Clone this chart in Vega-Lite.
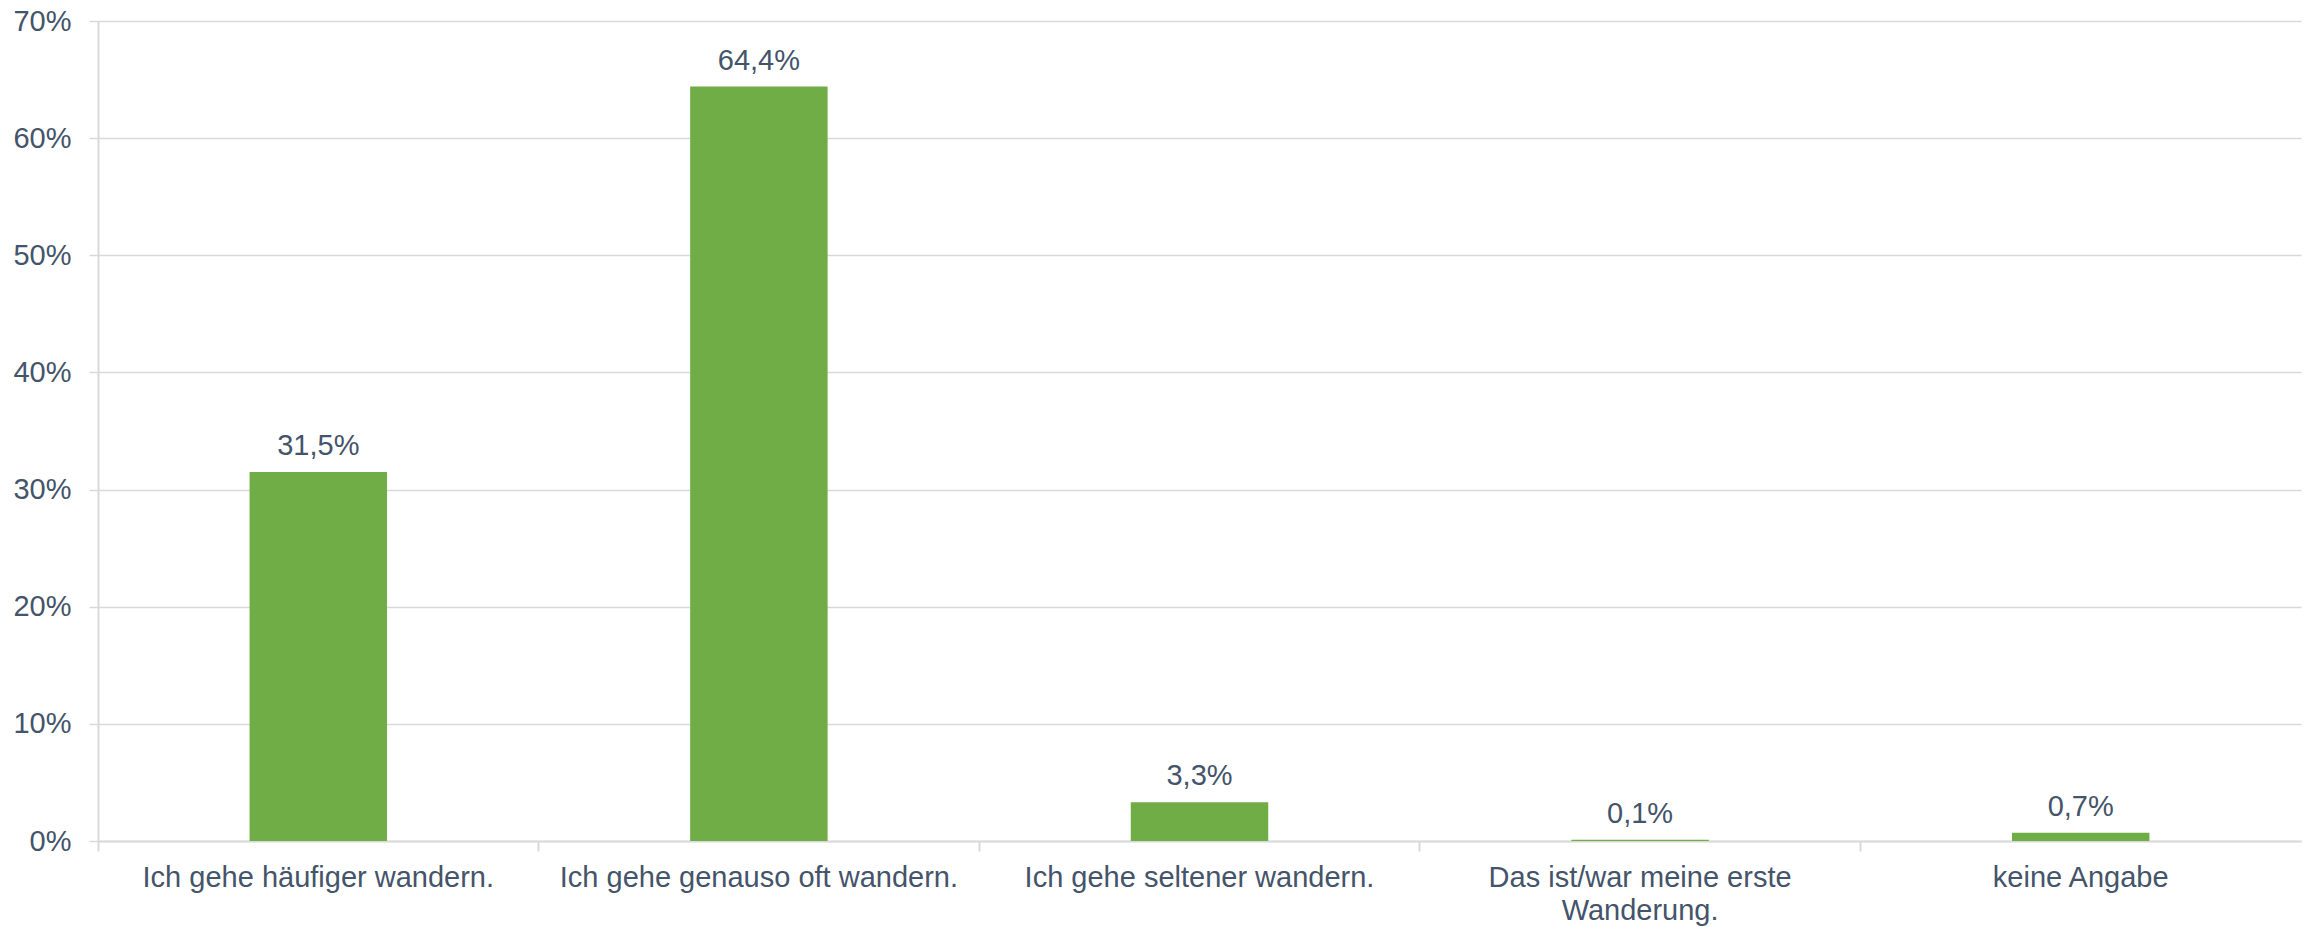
{
  "$schema": "https://vega.github.io/schema/vega-lite/v6.json",
  "autosize": {"type": "none"},
  "width": 2203,
  "height": 820,
  "padding": {"left": 98, "top": 21, "right": 12, "bottom": 86},
  "background": "white",
  "config": {
    "locale": {"number": {"decimal": ",", "thousands": ".", "grouping": [3], "currency": ["", " €"]}},
    "view": {"stroke": null},
    "font": "Liberation Sans",
    "axis": {"labelFont": "Liberation Sans", "labelColor": "#44546A", "labelFontSize": 29}
  },
  "data": {
    "values": [
      {"antwort": "Ich gehe häufiger wandern.", "anteil": 0.315},
      {"antwort": "Ich gehe genauso oft wandern.", "anteil": 0.644},
      {"antwort": "Ich gehe seltener wandern.", "anteil": 0.033},
      {"antwort": "Das ist/war meine erste Wanderung.", "anteil": 0.001},
      {"antwort": "keine Angabe", "anteil": 0.007}
    ]
  },
  "encoding": {
    "x": {
      "field": "antwort",
      "type": "nominal",
      "sort": null,
      "scale": {"paddingInner": 0, "paddingOuter": 0},
      "axis": {
        "title": null,
        "labelAngle": 0,
        "bandPosition": 0,
        "labelBandPosition": 0.5,
        "domainColor": "#D9D9D9",
        "domainWidth": 2,
        "tickColor": "#D9D9D9",
        "tickWidth": 2,
        "tickSize": 10,
        "labelPadding": 12,
        "labelLineHeight": 33,
        "labelBaseline": "top",
        "labelExpr": "datum.label == 'Das ist/war meine erste Wanderung.' ? ['Das ist/war meine erste', 'Wanderung.'] : datum.label",
        "labelLimit": 600
      }
    },
    "y": {
      "field": "anteil",
      "type": "quantitative",
      "scale": {"domain": [0, 0.7], "nice": false},
      "axis": {
        "title": null,
        "format": ".0%",
        "values": [0, 0.1, 0.2, 0.3, 0.4, 0.5, 0.6, 0.7],
        "gridColor": "#D9D9D9",
        "gridWidth": 1.5,
        "domainColor": "#D9D9D9",
        "domainWidth": 2,
        "tickColor": "#D9D9D9",
        "tickWidth": 1.5,
        "tickSize": 9,
        "labelPadding": 18
      }
    }
  },
  "layer": [
    {
      "mark": {"type": "bar", "color": "#70AD47", "width": {"band": 0.312}}
    },
    {
      "mark": {"type": "text", "baseline": "alphabetic", "dy": -17, "fontSize": 29, "color": "#44546A", "font": "Liberation Sans"},
      "encoding": {
        "text": {"field": "anteil", "type": "quantitative", "format": ".1%"}
      }
    }
  ]
}
